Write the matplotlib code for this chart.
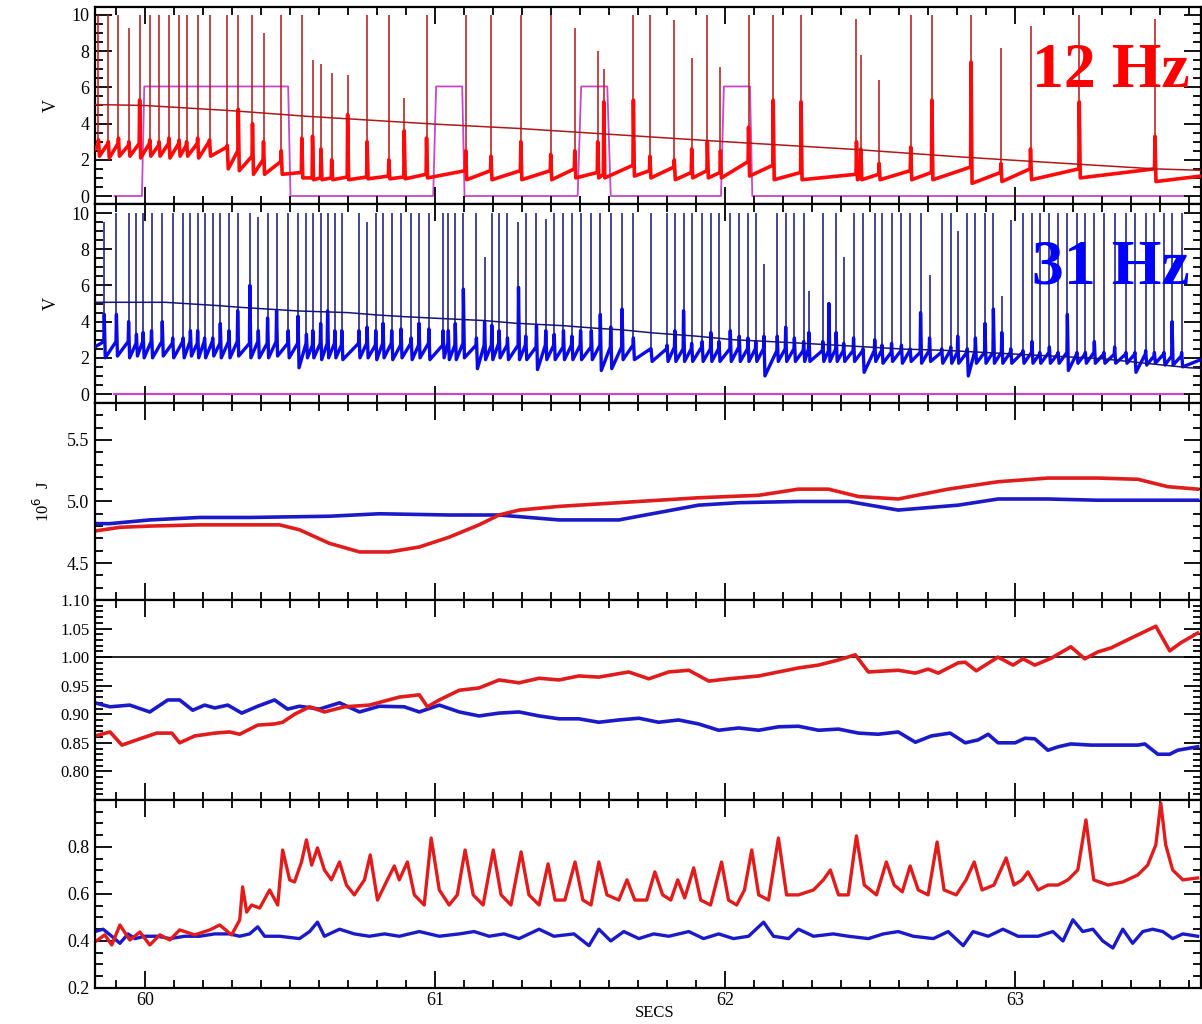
import matplotlib
matplotlib.use('Agg')
import matplotlib.pyplot as plt
import matplotlib.ticker as ticker
import numpy as np

plt.rcParams['font.family'] = ['Liberation Serif', 'DejaVu Serif']

# ---- panel 1 : 12 Hz cell, voltage trace (V) ----
p1_spike_t = [59.840, 59.874, 59.909, 59.945, 59.982, 60.017, 60.049, 60.083, 60.118, 60.144,
              60.182, 60.223, 60.284, 60.322, 60.371, 60.409, 60.470, 60.541, 60.578, 60.607,
              60.644, 60.699, 60.766, 60.841, 60.894, 60.971, 61.106, 61.193, 61.296, 61.399,
              61.482, 61.561, 61.582, 61.684, 61.741, 61.825, 61.885, 61.939, 61.984, 62.081,
              62.166, 62.262, 62.453, 62.468, 62.531, 62.640, 62.713, 62.848, 62.951, 63.053,
              63.221, 63.482]
p1_spike_peak = [10, 10, 10, 9.3, 10, 10, 10, 10, 10, 10,
                 10, 10, 10, 10, 10, 9.0, 10, 10, 7.5, 7.3,
                 6.8, 6.7, 10, 10, 5.4, 10, 10, 10, 10, 10,
                 9.3, 8.0, 7.0, 10, 10, 9.7, 7.6, 10, 7.1, 10,
                 10, 10, 9.8, 7.8, 6.4, 10, 10, 10, 8.2, 9.4,
                 10, 9.8]
p1_pre = [2.8, 2.9, 2.9, 2.8, 2.9, 2.9, 2.8, 2.9, 2.9, 2.8,
          2.9, 3.0, 2.7, 2.5, 2.2, 2.0, 1.9, 1.3, 1.0, 1.0,
          1.0, 1.05, 1.05, 1.1, 1.05, 1.2, 1.4, 1.4, 1.4, 1.4,
          1.5, 1.3, 1.2, 1.7, 1.4, 1.6, 1.3, 1.4, 1.3, 1.9,
          1.7, 1.3, 1.2, 1.0, 1.2, 1.4, 1.3, 1.6, 1.3, 1.5,
          1.5, 1.5]
p1_stub = [3.1, 3.0, 3.2, 3.0, 5.3, 3.1, 3.0, 3.2, 3.1, 3.0,
           3.2, 3.1, 2.8, 4.8, 4.0, 3.0, 2.5, 3.2, 3.3, 2.6,
           2.0, 4.5, 3.0, 2.0, 3.6, 3.2, 2.5, 2.2, 3.0, 2.3,
           2.5, 3.0, 5.2, 5.3, 2.2, 2.0, 2.6, 3.0, 2.5, 3.8,
           5.3, 5.2, 3.0, 2.6, 1.8, 2.7, 5.3, 7.4, 1.8, 2.6,
           5.2, 3.3]
p1_trough = [2.2, 2.1, 2.2, 2.2, 2.1, 2.2, 2.2, 2.1, 2.2, 2.2,
             2.1, 2.2, 1.5, 1.4, 1.2, 1.2, 1.2, 1.0, 0.9, 0.9,
             0.9, 0.9, 0.95, 0.95, 0.95, 1.0, 0.9, 0.9, 0.9, 0.9,
             1.0, 1.0, 1.0, 1.1, 1.0, 0.9, 1.0, 1.0, 1.0, 1.1,
             0.9, 0.9, 0.9, 0.9, 0.9, 0.9, 0.9, 0.7, 0.8, 0.9,
             1.0, 0.8]
p1_trace_ends = [(59.828, 2.6), (63.64, 1.1)]

p1_thresh_t = [59.828, 60.0, 60.31, 60.56, 61.0, 61.29, 61.65, 62.0, 62.44, 62.81, 63.05, 63.48, 63.64]
p1_thresh_v = [5.05, 5.0, 4.7, 4.4, 3.97, 3.73, 3.36, 3.0, 2.58, 2.16, 1.92, 1.5, 1.42]

# current step command (magenta)
p1_cmd_t = [59.895, 59.990, 59.998, 60.494, 60.502, 60.994, 61.004, 61.094, 61.102, 61.492,
            61.504, 61.594, 61.606, 61.986, 61.996, 62.086, 62.094, 63.58]
p1_cmd_v = [0, 0, 6.05, 6.05, 0, 0, 6.05, 6.05, 0, 0,
            6.05, 6.05, 0, 0, 6.05, 6.05, 0, 0]

# ---- panel 2 : 31 Hz cell, voltage trace (V) ----
p2_spike_t = [59.860, 59.902, 59.944, 59.971, 59.994, 60.023, 60.060, 60.096, 60.132, 60.157,
              60.182, 60.206, 60.234, 60.260, 60.290, 60.320, 60.362, 60.391, 60.423, 60.454,
              60.494, 60.528, 60.557, 60.579, 60.606, 60.630, 60.655, 60.679, 60.738, 60.766,
              60.796, 60.821, 60.851, 60.883, 60.918, 60.945, 60.979, 61.028, 61.046, 61.070,
              61.098, 61.143, 61.171, 61.196, 61.221, 61.250, 61.288, 61.313, 61.350, 61.382,
              61.411, 61.443, 61.472, 61.502, 61.539, 61.570, 61.606, 61.645, 61.684, 61.745,
              61.800, 61.827, 61.857, 61.885, 61.921, 61.951, 61.979, 62.018, 62.049, 62.079,
              62.106, 62.134, 62.180, 62.209, 62.239, 62.271, 62.289, 62.337, 62.358, 62.383,
              62.409, 62.443, 62.476, 62.516, 62.541, 62.574, 62.608, 62.638, 62.674, 62.705,
              62.747, 62.778, 62.802, 62.835, 62.863, 62.896, 62.925, 62.954, 62.985, 63.027,
              63.058, 63.085, 63.118, 63.148, 63.180, 63.213, 63.242, 63.273, 63.306, 63.343,
              63.382, 63.413, 63.450, 63.480, 63.513, 63.541, 63.574]
p2_spike_peak = [9.5, 10, 10, 10, 10, 10, 10, 10, 10, 10,
                 10, 10, 10, 10, 10, 10, 10, 9.8, 10, 10,
                 10, 10, 10, 10, 10, 10, 10, 10, 10, 9.5,
                 10, 10, 10, 10, 10, 10, 10, 10, 10, 10,
                 10, 10, 7.6, 10, 10, 10, 9.5, 10, 10, 9.7,
                 10, 10, 10, 10, 10, 10, 10, 10, 10, 10,
                 10, 10, 10, 10, 10, 10, 10, 10, 10, 10,
                 10, 7.2, 10, 10, 10, 10, 5.7, 10, 5.1, 10,
                 7.6, 10, 10, 10, 10, 10, 10, 10, 10, 6.6,
                 10, 10, 9.0, 10, 10, 10, 10, 5.4, 9.6, 10,
                 10, 10, 10, 10, 10, 10, 10, 10, 10, 10,
                 10, 10, 10, 10, 10, 10, 10]
p2_stub = [4.4, 4.4, 4.0, 3.3, 3.4, 3.5, 4.0, 3.1, 3.1, 3.5,
           3.5, 3.1, 3.1, 3.9, 3.5, 4.6, 6.0, 3.5, 4.2, 4.6,
           3.5, 4.3, 3.3, 3.5, 3.9, 4.6, 3.5, 3.5, 3.5, 3.7,
           3.5, 3.9, 3.5, 3.6, 3.1, 3.9, 3.6, 3.5, 3.5, 3.9,
           5.8, 3.1, 4.0, 3.8, 3.5, 3.1, 5.9, 3.2, 3.8, 3.5,
           3.3, 3.5, 3.2, 3.5, 3.5, 4.4, 3.7, 4.7, 3.1, 2.5,
           2.7, 3.5, 4.6, 2.8, 2.9, 3.4, 2.9, 3.5, 3.2, 3.1,
           2.9, 3.2, 3.2, 3.7, 3.1, 2.9, 3.4, 2.9, 5.0, 3.4,
           2.8, 3.1, 2.5, 3.0, 2.7, 2.8, 2.7, 2.5, 4.5, 3.1,
           2.5, 2.6, 3.2, 2.5, 3.1, 3.9, 4.7, 3.4, 2.5, 2.4,
           2.9, 2.3, 2.6, 2.3, 4.4, 2.3, 2.3, 2.9, 2.3, 2.6,
           2.3, 2.3, 2.4, 2.3, 2.3, 4.0, 2.3]
p2_pre = [2.9, 2.9, 2.9, 2.8, 2.9, 2.9, 2.9, 2.8, 2.9, 2.9,
          2.8, 2.9, 2.9, 2.8, 2.9, 2.9, 2.8, 2.9, 2.8, 2.9,
          2.8, 2.8, 2.8, 2.7, 2.8, 2.8, 2.8, 2.7, 2.8, 2.8,
          2.7, 2.8, 2.8, 2.7, 2.8, 2.7, 2.8, 2.7, 2.8, 2.7,
          2.8, 2.7, 2.7, 2.7, 2.8, 2.7, 2.7, 2.7, 2.6, 2.7,
          2.7, 2.6, 2.7, 2.7, 2.6, 2.7, 2.6, 2.6, 2.7, 2.5,
          2.5, 2.6, 2.5, 2.5, 2.6, 2.5, 2.5, 2.5, 2.6, 2.5,
          2.5, 2.5, 2.4, 2.5, 2.5, 2.4, 2.5, 2.4, 2.4, 2.5,
          2.4, 2.4, 2.4, 2.4, 2.4, 2.3, 2.4, 2.4, 2.3, 2.4,
          2.3, 2.4, 2.3, 2.3, 2.4, 2.3, 2.3, 2.3, 2.3, 2.3,
          2.3, 2.2, 2.3, 2.2, 2.3, 2.2, 2.2, 2.3, 2.2, 2.2,
          2.2, 2.2, 2.2, 2.1, 2.2, 2.1, 2.1]
p2_trough = [2.0, 2.1, 2.0, 2.1, 2.0, 2.0, 2.1, 2.0, 2.0, 2.1,
             2.0, 2.0, 2.1, 2.0, 2.0, 2.1, 2.0, 2.0, 2.0, 2.1,
             2.0, 1.45, 2.0, 2.0, 1.9, 2.0, 2.0, 1.9, 2.0, 2.0,
             1.9, 2.0, 1.9, 2.0, 1.9, 2.0, 1.9, 2.0, 1.9, 1.9,
             2.0, 1.4, 1.9, 1.9, 2.0, 1.9, 1.9, 1.9, 1.35, 1.9,
             1.9, 1.9, 1.9, 1.9, 1.9, 1.3, 1.4, 1.9, 1.9, 1.8,
             1.8, 1.8, 1.8, 1.8, 1.8, 1.8, 1.8, 1.8, 1.8, 1.8,
             1.8, 1.0, 1.8, 1.8, 1.8, 1.8, 1.8, 1.8, 1.8, 1.8,
             1.8, 1.8, 1.2, 1.8, 1.7, 1.8, 1.7, 1.8, 1.7, 1.8,
             1.7, 1.7, 1.7, 1.0, 1.7, 1.7, 1.7, 1.7, 1.7, 1.7,
             1.7, 1.7, 1.7, 1.7, 1.3, 1.7, 1.7, 1.7, 1.7, 1.7,
             1.7, 1.2, 1.6, 1.7, 1.6, 1.6, 1.5]
p2_trace_ends = [(59.828, 2.6), (63.64, 1.9)]

p2_thresh_t = [59.828, 59.90, 60.07, 60.16, 60.25, 60.34, 60.43, 60.53, 60.70, 60.80,
               60.89, 61.0, 61.17, 61.28, 61.44, 61.56, 61.65, 61.75, 61.90, 62.03,
               62.24, 62.62, 62.75, 63.30, 63.60, 63.64]
p2_thresh_v = [5.07, 5.07, 5.07, 4.98, 4.89, 4.78, 4.69, 4.59, 4.50, 4.37,
               4.28, 4.19, 4.06, 3.91, 3.78, 3.63, 3.54, 3.38, 3.20, 3.0,
               2.83, 2.48, 2.42, 1.95, 1.45, 1.42]
p2_cmd_t = [59.895, 63.58]
p2_cmd_v = [0, 0]

# ---- panel 3 : energy (10^6 J) ----
p3_red_t = [59.828, 59.914, 60.017, 60.189, 60.361, 60.464, 60.533, 60.636, 60.740, 60.843,
            60.946, 61.049, 61.152, 61.221, 61.290, 61.428, 61.634, 61.909, 62.116, 62.253,
            62.356, 62.460, 62.597, 62.769, 62.941, 63.113, 63.285, 63.423, 63.526, 63.629]
p3_red_v = [4.76, 4.79, 4.80, 4.81, 4.81, 4.81, 4.77, 4.66, 4.59, 4.59,
            4.63, 4.71, 4.81, 4.89, 4.93, 4.96, 4.99, 5.03, 5.05, 5.10,
            5.10, 5.04, 5.02, 5.10, 5.16, 5.19, 5.19, 5.18, 5.12, 5.10]
p3_blue_t = [59.828, 59.880, 60.017, 60.189, 60.361, 60.636, 60.808, 61.049, 61.221, 61.428,
             61.634, 61.909, 62.047, 62.253, 62.425, 62.597, 62.804, 62.941, 63.113, 63.285,
             63.629]
p3_blue_v = [4.82, 4.82, 4.85, 4.87, 4.87, 4.88, 4.90, 4.89, 4.89, 4.85,
             4.85, 4.97, 4.99, 5.00, 5.00, 4.93, 4.97, 5.02, 5.02, 5.01,
             5.01]

# ---- panel 4 : ratio ----
p4_red_t = [59.828, 59.880, 59.921, 59.983, 60.041, 60.093, 60.120, 60.172, 60.241, 60.292,
            60.327, 60.389, 60.447, 60.475, 60.516, 60.568, 60.619, 60.688, 60.774, 60.877,
            60.946, 60.974, 61.015, 61.084, 61.152, 61.221, 61.290, 61.359, 61.428, 61.496,
            61.565, 61.668, 61.737, 61.806, 61.875, 61.944, 62.012, 62.116, 62.184, 62.253,
            62.322, 62.391, 62.449, 62.494, 62.597, 62.656, 62.700, 62.735, 62.804, 62.828,
            62.866, 62.941, 62.993, 63.027, 63.068, 63.124, 63.192, 63.240, 63.285, 63.330,
            63.399, 63.485, 63.533, 63.571, 63.629]
p4_red_v = [0.862, 0.869, 0.846, 0.857, 0.867, 0.867, 0.850, 0.862, 0.867, 0.869,
            0.865, 0.881, 0.883, 0.886, 0.900, 0.913, 0.904, 0.913, 0.916, 0.930,
            0.934, 0.913, 0.925, 0.942, 0.946, 0.960, 0.955, 0.963, 0.960, 0.967,
            0.965, 0.974, 0.962, 0.974, 0.977, 0.958, 0.962, 0.967, 0.974, 0.981,
            0.986, 0.995, 1.004, 0.974, 0.977, 0.972, 0.979, 0.972, 0.990, 0.991,
            0.976, 1.000, 0.986, 0.997, 0.986, 0.998, 1.018, 0.997, 1.009, 1.016,
            1.033, 1.054, 1.011, 1.025, 1.042]
p4_blue_t = [59.828, 59.880, 59.948, 60.017, 60.079, 60.120, 60.165, 60.206, 60.241, 60.286,
             60.334, 60.389, 60.447, 60.492, 60.533, 60.602, 60.671, 60.740, 60.808, 60.894,
             60.946, 61.015, 61.084, 61.152, 61.221, 61.290, 61.359, 61.428, 61.496, 61.565,
             61.634, 61.703, 61.771, 61.840, 61.909, 61.978, 62.047, 62.116, 62.184, 62.253,
             62.322, 62.391, 62.460, 62.528, 62.597, 62.656, 62.711, 62.776, 62.828, 62.872,
             62.907, 62.941, 63.000, 63.034, 63.068, 63.113, 63.148, 63.192, 63.261, 63.423,
             63.447, 63.492, 63.533, 63.560, 63.605, 63.629]
p4_blue_v = [0.920, 0.913, 0.916, 0.904, 0.925, 0.925, 0.907, 0.916, 0.911, 0.916,
             0.902, 0.914, 0.925, 0.909, 0.914, 0.909, 0.920, 0.904, 0.914, 0.913,
             0.904, 0.916, 0.904, 0.897, 0.902, 0.904, 0.897, 0.892, 0.892, 0.886,
             0.890, 0.893, 0.886, 0.890, 0.883, 0.872, 0.876, 0.872, 0.878, 0.879,
             0.872, 0.874, 0.867, 0.865, 0.869, 0.851, 0.862, 0.867, 0.850, 0.855,
             0.865, 0.850, 0.850, 0.858, 0.857, 0.837, 0.843, 0.848, 0.846, 0.846,
             0.848, 0.830, 0.830, 0.837, 0.841, 0.843]

# ---- panel 5 ----
p5_red_t = [59.828, 59.862, 59.886, 59.914, 59.948, 59.983, 60.017, 60.052, 60.086, 60.120,
            60.172, 60.224, 60.258, 60.299, 60.327, 60.337, 60.351, 60.368, 60.396, 60.430,
            60.458, 60.475, 60.499, 60.516, 60.540, 60.557, 60.575, 60.595, 60.619, 60.643,
            60.671, 60.695, 60.722, 60.757, 60.777, 60.802, 60.836, 60.860, 60.877, 60.905,
            60.929, 60.963, 60.987, 61.015, 61.049, 61.077, 61.104, 61.132, 61.166, 61.201,
            61.228, 61.262, 61.297, 61.324, 61.359, 61.390, 61.414, 61.448, 61.483, 61.510,
            61.538, 61.565, 61.593, 61.634, 61.662, 61.689, 61.730, 61.758, 61.785, 61.813,
            61.837, 61.861, 61.892, 61.916, 61.950, 61.988, 62.012, 62.040, 62.067, 62.092,
            62.116, 62.150, 62.184, 62.212, 62.253, 62.305, 62.339, 62.363, 62.391, 62.425,
            62.453, 62.480, 62.522, 62.556, 62.583, 62.611, 62.638, 62.666, 62.700, 62.731,
            62.755, 62.797, 62.831, 62.859, 62.886, 62.927, 62.969, 62.996, 63.024, 63.044,
            63.079, 63.113, 63.148, 63.182, 63.216, 63.244, 63.271, 63.320, 63.371, 63.423,
            63.457, 63.485, 63.502, 63.519, 63.543, 63.578, 63.629]
p5_red_v = [0.396, 0.426, 0.383, 0.468, 0.404, 0.438, 0.383, 0.426, 0.404, 0.447,
            0.426, 0.447, 0.468, 0.426, 0.489, 0.630, 0.523, 0.553, 0.540, 0.617,
            0.553, 0.787, 0.660, 0.651, 0.736, 0.830, 0.723, 0.796, 0.702, 0.660,
            0.736, 0.638, 0.596, 0.660, 0.766, 0.574, 0.660, 0.719, 0.660, 0.736,
            0.596, 0.553, 0.838, 0.617, 0.553, 0.596, 0.787, 0.596, 0.553, 0.787,
            0.596, 0.553, 0.779, 0.596, 0.553, 0.728, 0.574, 0.574, 0.736, 0.574,
            0.553, 0.736, 0.596, 0.574, 0.660, 0.574, 0.574, 0.694, 0.596, 0.574,
            0.660, 0.583, 0.711, 0.574, 0.553, 0.736, 0.574, 0.553, 0.617, 0.787,
            0.596, 0.574, 0.838, 0.596, 0.596, 0.617, 0.660, 0.702, 0.596, 0.596,
            0.847, 0.638, 0.596, 0.736, 0.638, 0.609, 0.719, 0.617, 0.596, 0.821,
            0.617, 0.596, 0.660, 0.736, 0.617, 0.638, 0.753, 0.638, 0.660, 0.694,
            0.617, 0.638, 0.638, 0.660, 0.702, 0.915, 0.660, 0.638, 0.651, 0.681,
            0.723, 0.809, 0.987, 0.809, 0.702, 0.660, 0.668]
p5_blue_t = [59.828, 59.856, 59.886, 59.914, 59.942, 59.966, 60.000, 60.045, 60.086, 60.138,
             60.189, 60.241, 60.292, 60.327, 60.361, 60.389, 60.413, 60.464, 60.533, 60.568,
             60.595, 60.619, 60.671, 60.722, 60.774, 60.826, 60.877, 60.946, 61.015, 61.084,
             61.135, 61.187, 61.238, 61.290, 61.359, 61.410, 61.479, 61.531, 61.565, 61.606,
             61.651, 61.703, 61.754, 61.806, 61.875, 61.926, 61.978, 62.029, 62.081, 62.133,
             62.167, 62.219, 62.253, 62.305, 62.373, 62.425, 62.494, 62.546, 62.597, 62.649,
             62.718, 62.769, 62.821, 62.855, 62.907, 62.958, 63.010, 63.079, 63.130, 63.165,
             63.199, 63.233, 63.268, 63.302, 63.337, 63.371, 63.405, 63.440, 63.474, 63.509,
             63.543, 63.578, 63.629]
p5_blue_v = [0.44, 0.45, 0.42, 0.39, 0.43, 0.41, 0.42, 0.42, 0.41, 0.42,
             0.42, 0.43, 0.43, 0.42, 0.43, 0.46, 0.42, 0.42, 0.41, 0.44,
             0.48, 0.42, 0.45, 0.43, 0.42, 0.43, 0.42, 0.44, 0.42, 0.43,
             0.44, 0.42, 0.43, 0.41, 0.45, 0.42, 0.43, 0.38, 0.45, 0.40,
             0.44, 0.41, 0.43, 0.42, 0.44, 0.41, 0.43, 0.41, 0.42, 0.48,
             0.42, 0.41, 0.45, 0.42, 0.43, 0.42, 0.41, 0.43, 0.44, 0.42,
             0.41, 0.44, 0.38, 0.44, 0.42, 0.45, 0.42, 0.42, 0.44, 0.40,
             0.49, 0.44, 0.45, 0.40, 0.37, 0.45, 0.39, 0.44, 0.45, 0.44,
             0.41, 0.43, 0.42]

RED = '#ff0a0a'
DARKRED = '#b01818'
MAGENTA = '#c848c8'
BLUE = '#0a0ae6'
NAVY = '#14147a'
RED2 = '#e01c1c'
BLUE2 = '#1a1ac8'

XLIM = (59.828, 63.64)


def trace(spike_t, pre, stub, trough, ends):
    # thick membrane trace: rise to pre level, spike stub, after-dip
    xs = [ends[0][0]]
    ys = [ends[0][1]]
    for t, p, s, tr in zip(spike_t, pre, stub, trough):
        xs += [t - 0.0015, t, t + 0.0035]
        ys += [p, s, tr]
    xs.append(ends[1][0])
    ys.append(ends[1][1])
    return xs, ys


def style(ax, major, minor, show_x=False, ysize=13):
    ax.set_xlim(*XLIM)
    ax.xaxis.set_major_locator(ticker.MultipleLocator(1))
    ax.xaxis.set_minor_locator(ticker.MultipleLocator(0.1))
    ax.yaxis.set_major_locator(ticker.MultipleLocator(major))
    ax.yaxis.set_minor_locator(ticker.MultipleLocator(minor))
    ax.tick_params(which='both', direction='in', top=True, right=True, width=1.3, color='black')
    ax.tick_params(which='major', length=12)
    ax.tick_params(which='minor', length=6)
    ax.tick_params(axis='y', labelsize=ysize, pad=4)
    ax.tick_params(axis='x', labelsize=13, labelbottom=show_x)
    for s in ax.spines.values():
        s.set_linewidth(1.6)


fig = plt.figure(figsize=(12.02, 10.24), dpi=100)
L, W = 0.079, 0.920
ax1 = fig.add_axes([L, 0.8008, W, 0.1924])
ax2 = fig.add_axes([L, 0.6064, W, 0.1943])
ax3 = fig.add_axes([L, 0.4141, W, 0.1924])
ax4 = fig.add_axes([L, 0.2188, W, 0.1953])
ax5 = fig.add_axes([L, 0.0352, W, 0.1836])

# panel 1
ax1.plot(p1_cmd_t, p1_cmd_v, color=MAGENTA, lw=1.3, zorder=1)
ax1.vlines(p1_spike_t, p1_pre, p1_spike_peak, color=DARKRED, lw=1.1, zorder=2)
x, y = trace(p1_spike_t, p1_pre, p1_stub, p1_trough, p1_trace_ends)
ax1.plot(x, y, color=RED, lw=2.6, zorder=3)
ax1.plot(p1_thresh_t, p1_thresh_v, color=DARKRED, lw=1.1, zorder=4)
ax1.set_ylim(-0.44, 10.44)
style(ax1, 2, 0.5)
ax1.set_yticks([0, 2, 4, 6, 8, 10])
ax1.set_ylabel('V', fontsize=13, labelpad=8)
ax1.text(0.99, 0.595, '12 Hz', transform=ax1.transAxes, ha='right', va='baseline',
         fontsize=46, fontweight='bold', color='#ff0000', zorder=6)

# panel 2
ax2.plot(p2_cmd_t, p2_cmd_v, color=MAGENTA, lw=1.6, zorder=1)
ax2.vlines(p2_spike_t, p2_pre, p2_spike_peak, color=NAVY, lw=1.1, zorder=2)
x, y = trace(p2_spike_t, p2_pre, p2_stub, p2_trough, p2_trace_ends)
ax2.plot(x, y, color=BLUE, lw=2.4, zorder=3)
ax2.plot(p2_thresh_t, p2_thresh_v, color=NAVY, lw=1.1, zorder=4)
ax2.set_ylim(-0.5, 10.5)
style(ax2, 2, 0.5)
ax2.set_yticks([0, 2, 4, 6, 8, 10])
ax2.set_ylabel('V', fontsize=13, labelpad=8)
ax2.text(0.99, 0.60, '31 Hz', transform=ax2.transAxes, ha='right', va='baseline',
         fontsize=46, fontweight='bold', color='#0000ff', zorder=6)

# panel 3
ax3.plot(p3_blue_t, p3_blue_v, color=BLUE2, lw=2.6)
ax3.plot(p3_red_t, p3_red_v, color=RED2, lw=2.6)
ax3.set_ylim(4.2, 5.8)
style(ax3, 0.5, 0.1)
ax3.yaxis.set_major_formatter(ticker.FormatStrFormatter('%.1f'))
ax3.set_ylabel(r'10$^6$  J', fontsize=12, labelpad=10)

# panel 4
ax4.axhline(1.0, color='black', lw=1.2)
ax4.plot(p4_blue_t, p4_blue_v, color=BLUE2, lw=2.6)
ax4.plot(p4_red_t, p4_red_v, color=RED2, lw=2.6)
ax4.set_ylim(0.75, 1.10)
style(ax4, 0.05, 0.01, ysize=12)
ax4.set_yticks([0.80, 0.85, 0.90, 0.95, 1.00, 1.05, 1.10])
ax4.yaxis.set_major_formatter(ticker.FormatStrFormatter('%.2f'))

# panel 5
ax5.plot(p5_blue_t, p5_blue_v, color=BLUE2, lw=2.4)
ax5.plot(p5_red_t, p5_red_v, color=RED2, lw=2.4)
ax5.set_ylim(0.2, 1.0)
style(ax5, 0.2, 0.05, show_x=True)
ax5.set_yticks([0.2, 0.4, 0.6, 0.8])
ax5.yaxis.set_major_formatter(ticker.FormatStrFormatter('%.1f'))
ax5.set_xticks([60, 61, 62, 63])
ax5.tick_params(axis='x', pad=3)

fig.text(655 / 1202, 1 - 1013 / 1024, 'SECS', ha='center', va='center', fontsize=12)

fig.savefig('out.png', dpi=100)
